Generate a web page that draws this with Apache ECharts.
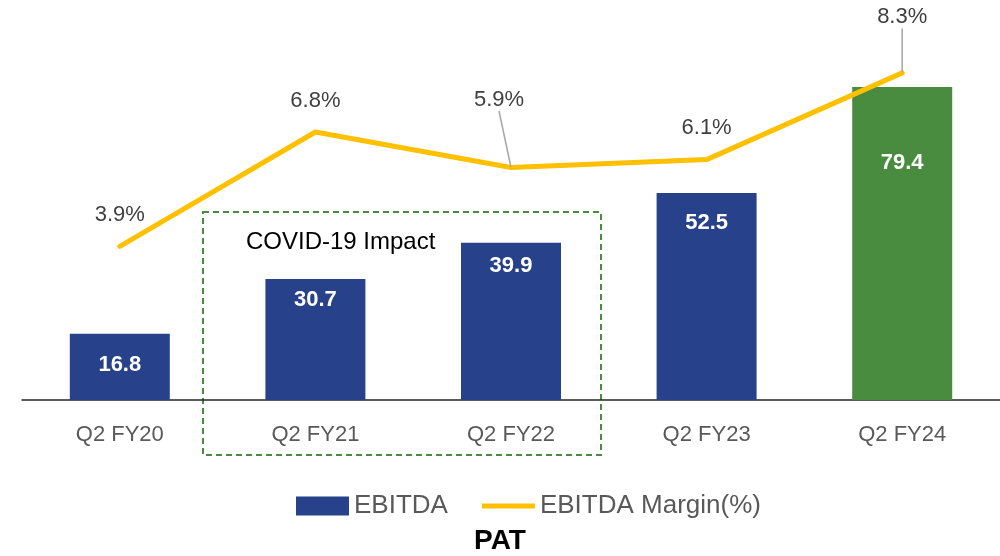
<!DOCTYPE html>
<html>
<head>
<meta charset="utf-8">
<script src="https://cdn.jsdelivr.net/npm/echarts@6/dist/echarts.min.js"></script>
<style>
	html, body { margin: 0; padding: 0; background: #fff; }
	#main { width: 1000px; height: 556px; }
</style>
</head>
<body>
<div id="main"></div>
<script>
// 数据
var quarters = ['Q2 FY20', 'Q2 FY21', 'Q2 FY22', 'Q2 FY23', 'Q2 FY24'];
var ebitda = [16.8, 30.7, 39.9, 52.5, 79.4];
var margin = [3.9, 6.8, 5.9, 6.1, 8.3];

// 样式
var FONT = 'Liberation Sans';
var barColors = ['#27418a', '#27418a', '#27418a', '#27418a', '#498b3f'];
var barLabelGap = [20, 10, 12, 19, 65];
var marginLabelMove = { 2: [-12, -36], 4: [0, -24] };

var myChart = echarts.init(document.getElementById('main'));

var barData = ebitda.map(function(v, i) {
	return {
		value: v,
		itemStyle: { color: barColors[i] },
		label: { distance: barLabelGap[i] }
	};
});

var lineData = margin.map(function(v, i) {
	var item = { value: v };
	if (marginLabelMove[i]) {
		item.labelLine = { show: true };
	}
	return item;
});

var option = {
	animation: false,
	textStyle: { fontFamily: FONT },
	title: {
		text: 'PAT',
		left: 'center',
		top: 522,
		textStyle: { fontFamily: FONT, fontSize: 28, fontWeight: 'bold', color: '#000' }
	},
	legend: {
		bottom: 32,
		left: 291,
		itemWidth: 53,
		itemHeight: 19,
		itemGap: 34,
		textStyle: { fontFamily: FONT, fontSize: 26, color: '#595959' },
		data: [
			{ name: 'EBITDA', icon: 'rect' },
			{ name: 'EBITDA Margin(%)', icon: 'path://M0,0H53V5H0Z' }
		]
	},
	grid: { left: 22, right: 0, top: 0, bottom: 156 },
	xAxis: {
		type: 'category',
		data: quarters,
		axisLine: { lineStyle: { color: '#262626', width: 1.5 } },
		axisTick: { show: false },
		axisLabel: { margin: 24, fontSize: 22, color: '#595959', fontFamily: FONT }
	},
	yAxis: [{
		type: 'value', min: 0, max: 101.5, show: false, splitLine: { show: false }
	}, {
		type: 'value', min: 0, max: 10.15, show: false, splitLine: { show: false }
	}],
	series: [{
		name: 'EBITDA',
		type: 'bar',
		barWidth: 100,
		itemStyle: { color: '#27418a' },
		label: {
			show: true,
			position: 'insideTop',
			color: '#fff',
			fontSize: 22,
			fontWeight: 'bold',
			fontFamily: FONT
		},
		data: barData
	}, {
		name: 'EBITDA Margin(%)',
		type: 'line',
		yAxisIndex: 1,
		symbol: 'circle',
		symbolSize: 1,
		itemStyle: { color: '#ffc000' },
		lineStyle: { color: '#ffc000', width: 5, cap: 'round', join: 'round' },
		label: {
			show: true,
			position: 'top',
			distance: 20,
			fontSize: 22,
			color: '#404040',
			fontFamily: FONT,
			formatter: function(p) { return p.value.toFixed(1) + '%'; }
		},
		labelLine: {
			show: false,
			length2: 0,
			lineStyle: { color: '#a6a6a6', width: 1.5 }
		},
		labelLayout: function(params) {
			var mv = marginLabelMove[params.dataIndex];
			if (mv) {
				return { dx: mv[0], dy: mv[1] };
			}
			return {};
		},
		data: lineData
	}],
	graphic: [{
		type: 'rect',
		shape: { x: 203, y: 212, width: 398, height: 243 },
		style: { fill: 'none', stroke: '#4a8b3f', lineWidth: 2, lineDash: [6, 4] },
		z: 0
	}, {
		type: 'text',
		x: 246,
		y: 242,
		style: {
			text: 'COVID-19 Impact',
			fontFamily: FONT,
			fontSize: 24,
			fill: '#000',
			verticalAlign: 'middle'
		}
	}]
};

myChart.setOption(option);
</script>
</body>
</html>
